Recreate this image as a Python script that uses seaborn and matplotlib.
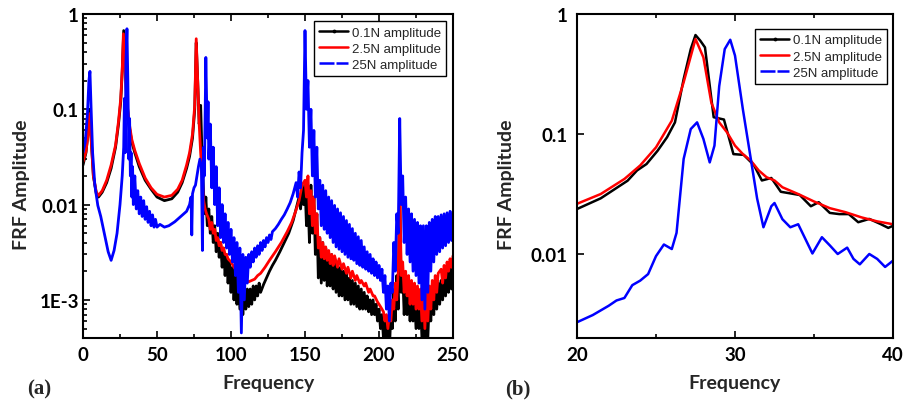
import matplotlib
matplotlib.use("Agg")
import matplotlib.pyplot as plt
import seaborn as sns
from matplotlib.lines import Line2D
from matplotlib.ticker import FixedLocator, FixedFormatter, LogLocator, NullFormatter, MultipleLocator

# ---------------- data: panel (a) ----------------
freq_a_01 = [0, 2, 3.5, 4.5, 5.5, 7, 9, 10.5, 13, 16, 19, 22, 24, 25.5, 26.5, 27.5, 28.5, 29.5, 31, 33, 35, 38, 42, 46, 50, 55, 60, 64, 67, 70, 72, 74, 75.5, 76.5, 77.5, 78.5, 79.5, 80.5, 81.5, 82.5, 83, 84, 85, 86, 87, 88, 89, 90, 91, 92, 93, 94, 95, 96, 97, 98, 99, 100, 101, 102, 103, 104, 105, 106, 107, 108, 109, 110, 111, 112, 113, 114, 115, 116, 117, 118, 119, 120, 122, 124, 126, 128, 130, 133, 136, 139, 142, 144, 146, 147, 148, 149, 150, 151, 152, 153, 154, 155, 156, 157, 158, 159, 160, 161, 162, 163, 164, 165, 166, 167, 168, 169, 170, 171, 172, 173, 174, 175, 176, 177, 178, 179, 180, 181, 182, 183, 184, 185, 186, 187, 188, 189, 190, 191, 192, 193, 194, 195, 196, 197, 198, 199, 200, 201, 202, 203, 204, 205, 206, 207, 208, 209, 210, 211, 212, 213, 214, 215, 216, 217, 218, 219, 220, 221, 222, 223, 224, 225, 226, 227, 228, 229, 230, 231, 232, 233, 234, 235, 236, 237, 238, 239, 240, 241, 242, 243, 244, 245, 246, 247, 248, 249, 250]
amp_a_01 = [0.026, 0.035, 0.06, 0.1, 0.05, 0.02, 0.013, 0.012, 0.0135, 0.017, 0.024, 0.04, 0.07, 0.12, 0.25, 0.67, 0.3, 0.13, 0.07, 0.045, 0.035, 0.025, 0.018, 0.0145, 0.012, 0.011, 0.0115, 0.0135, 0.017, 0.024, 0.032, 0.05, 0.1, 0.5, 0.2, 0.07, 0.11, 0.03, 0.013, 0.008, 0.012, 0.006, 0.009, 0.005, 0.0075, 0.004, 0.006, 0.0032, 0.005, 0.0028, 0.004, 0.0022, 0.0035, 0.0018, 0.003, 0.0015, 0.0025, 0.0012, 0.0022, 0.001, 0.0019, 0.0009, 0.0017, 0.0008, 0.0016, 0.0007, 0.0014, 0.0008, 0.0013, 0.00085, 0.0013, 0.0009, 0.0014, 0.001, 0.0014, 0.0011, 0.0015, 0.0012, 0.00145, 0.0017, 0.002, 0.0023, 0.0026, 0.0032, 0.004, 0.005, 0.0068, 0.009, 0.012, 0.009, 0.015, 0.01, 0.016, 0.006, 0.012, 0.004, 0.016, 0.005, 0.012, 0.003, 0.008, 0.0017, 0.0045, 0.0015, 0.004, 0.0016, 0.0035, 0.0014, 0.003, 0.0014, 0.003, 0.0013, 0.0026, 0.0012, 0.0024, 0.0011, 0.0022, 0.0011, 0.002, 0.001, 0.0019, 0.001, 0.0017, 0.0009, 0.0016, 0.0009, 0.0015, 0.00085, 0.0014, 0.0008, 0.0013, 0.0008, 0.0012, 0.0008, 0.0011, 0.00075, 0.001, 0.0007, 0.001, 0.0007, 0.0009, 0.0006, 0.0008, 0.0005, 0.0007, 0.0004, 0.0006, 0.0003, 0.0006, 0.0003, 0.0007, 0.0005, 0.0012, 0.0006, 0.0018, 0.0008, 0.015, 0.0012, 0.002, 0.0007, 0.0016, 0.0007, 0.0015, 0.0006, 0.0013, 0.0006, 0.0012, 0.0005, 0.0012, 0.0005, 0.001, 0.0004, 0.0009, 0.0003, 0.0009, 0.0004, 0.001, 0.0006, 0.0012, 0.0007, 0.0014, 0.0008, 0.0015, 0.0009, 0.0016, 0.001, 0.0018, 0.0011, 0.002, 0.0012, 0.0022, 0.0013, 0.0023]

freq_a_25 = [0, 2, 3.5, 4.5, 5.5, 7, 9, 10.5, 13, 16, 19, 22, 24, 25.5, 26.5, 27.3, 28.3, 29.5, 31, 33, 35, 38, 42, 46, 50, 55, 60, 64, 67, 70, 72, 74, 75.5, 76.5, 77.5, 78.5, 79.5, 80.5, 81.5, 82.5, 83.5, 85, 86, 87, 88, 89, 90, 91, 92, 93, 94, 95, 96, 97, 98, 100, 102, 104, 106, 108, 110, 112, 114, 116, 118, 120, 123, 126, 130, 134, 138, 141, 144, 146, 148, 149, 150, 151, 152, 153, 154, 155, 156, 157, 158, 159, 160, 161, 162, 163, 164, 165, 166, 167, 168, 169, 170, 172, 173, 175, 176, 178, 179, 181, 182, 184, 185, 187, 188, 190, 191, 193, 194, 196, 197, 199, 200, 202, 203, 204, 205, 206, 207, 208, 209, 210, 211, 212, 213, 214, 215, 216, 217, 218, 219, 220, 221, 222, 223, 224, 225, 226, 227, 228, 229, 230, 231, 232, 233, 234, 235, 236, 237, 238, 239, 240, 242, 243, 244, 245, 246, 247, 248, 249, 250]
amp_a_25 = [0.028, 0.036, 0.055, 0.09, 0.05, 0.02, 0.0135, 0.0125, 0.014, 0.018, 0.026, 0.042, 0.075, 0.13, 0.26, 0.62, 0.3, 0.13, 0.075, 0.048, 0.037, 0.027, 0.019, 0.015, 0.0128, 0.012, 0.0125, 0.0145, 0.018, 0.026, 0.035, 0.055, 0.11, 0.55, 0.2, 0.07, 0.035, 0.02, 0.011, 0.009, 0.008, 0.007, 0.0055, 0.0065, 0.005, 0.0055, 0.0042, 0.0045, 0.0037, 0.004, 0.0033, 0.0035, 0.003, 0.003, 0.0027, 0.0025, 0.0022, 0.002, 0.0019, 0.0017, 0.0016, 0.00155, 0.0016, 0.00165, 0.0018, 0.0019, 0.0022, 0.0026, 0.0032, 0.004, 0.0052, 0.0065, 0.0088, 0.011, 0.016, 0.017, 0.018, 0.012, 0.02, 0.008, 0.014, 0.006, 0.012, 0.005, 0.008, 0.0035, 0.0045, 0.0028, 0.004, 0.0027, 0.0036, 0.0026, 0.0033, 0.0024, 0.003, 0.0023, 0.0029, 0.0022, 0.0027, 0.0021, 0.0024, 0.0019, 0.0022, 0.0017, 0.002, 0.0016, 0.0018, 0.0015, 0.0016, 0.0014, 0.0015, 0.0012, 0.0013, 0.0011, 0.0011, 0.00095, 0.0009, 0.0008, 0.00075, 0.0006, 0.0007, 0.0005, 0.0007, 0.0006, 0.001, 0.0008, 0.0015, 0.001, 0.002, 0.018, 0.0018, 0.0025, 0.0012, 0.002, 0.0011, 0.0018, 0.0009, 0.0016, 0.0009, 0.0015, 0.0008, 0.0014, 0.0008, 0.0013, 0.0006, 0.0013, 0.0005, 0.0013, 0.0006, 0.0014, 0.0008, 0.0016, 0.001, 0.0018, 0.0012, 0.0019, 0.0021, 0.0015, 0.0023, 0.0017, 0.0025, 0.002, 0.0027, 0.0022, 0.0029]

freq_a_250 = [0, 1.5, 3, 4, 4.7, 5.5, 6.5, 8, 10, 12, 15, 17, 19, 21, 23, 25, 26.5, 27.5, 28, 28.5, 29, 29.7, 30.3, 31, 31.5, 32, 32.5, 33, 33.5, 34, 35, 36, 37, 38, 39, 40, 41, 42, 43, 44, 45, 46, 47, 48, 49, 50, 52, 55, 58, 62, 66, 70, 72, 73, 73.5, 74, 75, 76, 77, 78, 79, 80, 80.7, 81.5, 82, 83, 84, 84.5, 85, 86, 87, 88, 89, 90, 91, 92, 93, 94, 95, 96, 97, 98, 99, 100, 101, 102, 103, 104, 105, 106, 107, 108, 109, 110, 111, 112, 113, 114, 115, 116, 117, 118, 119, 120, 121, 122, 123, 124, 125, 126, 127, 128, 130, 132, 134, 136, 138, 140, 142, 144, 145, 146, 147, 148, 149, 150, 151, 152, 153, 154, 155, 156, 157, 158, 159, 160, 161, 162, 163, 164, 165, 166, 167, 168, 169, 170, 171, 172, 173, 174, 175, 176, 177, 178, 179, 180, 181, 182, 183, 184, 185, 186, 187, 188, 189, 190, 191, 192, 193, 194, 195, 196, 197, 198, 199, 200, 201, 202, 203, 204, 205, 206, 207, 208, 209, 210, 211, 212, 213, 214, 215, 216, 217, 218, 219, 220, 221, 222, 223, 224, 225, 226, 227, 228, 229, 230, 231, 232, 233, 234, 235, 236, 237, 238, 239, 240, 241, 242, 243, 244, 245, 246, 247, 248, 249, 250]
amp_a_250 = [0.035, 0.045, 0.09, 0.2, 0.25, 0.1, 0.035, 0.016, 0.0098, 0.0075, 0.0045, 0.0032, 0.0026, 0.0033, 0.005, 0.01, 0.02, 0.04, 0.13, 0.035, 0.3, 0.7, 0.2, 0.03, 0.08, 0.02, 0.035, 0.012, 0.025, 0.01, 0.02, 0.009, 0.014, 0.008, 0.012, 0.0075, 0.011, 0.007, 0.0095, 0.0065, 0.0085, 0.006, 0.0078, 0.0058, 0.007, 0.0058, 0.0062, 0.0058, 0.006, 0.0066, 0.0075, 0.0085, 0.01, 0.012, 0.0048, 0.013, 0.015, 0.016, 0.02, 0.025, 0.03, 0.025, 0.0033, 0.04, 0.02, 0.35, 0.05, 0.12, 0.03, 0.07, 0.015, 0.04, 0.01, 0.025, 0.006, 0.015, 0.0045, 0.01, 0.004, 0.008, 0.0035, 0.0065, 0.003, 0.0055, 0.0025, 0.0045, 0.0018, 0.004, 0.0012, 0.0035, 0.00045, 0.003, 0.001, 0.0028, 0.0015, 0.003, 0.0022, 0.0032, 0.0025, 0.0035, 0.0028, 0.0037, 0.003, 0.004, 0.0033, 0.0042, 0.0036, 0.0045, 0.004, 0.0048, 0.0043, 0.0052, 0.0056, 0.0062, 0.007, 0.0078, 0.009, 0.0105, 0.013, 0.017, 0.012, 0.022, 0.015, 0.035, 0.06, 0.67, 0.1, 0.2, 0.04, 0.1, 0.02, 0.06, 0.012, 0.04, 0.009, 0.018, 0.006, 0.016, 0.0055, 0.014, 0.005, 0.012, 0.0045, 0.011, 0.004, 0.0098, 0.0036, 0.009, 0.0034, 0.0082, 0.0032, 0.0075, 0.003, 0.0068, 0.0028, 0.0062, 0.0027, 0.0056, 0.0026, 0.005, 0.0024, 0.0046, 0.0023, 0.0042, 0.0022, 0.0036, 0.0021, 0.0032, 0.002, 0.003, 0.0019, 0.0027, 0.0018, 0.0025, 0.0017, 0.0023, 0.0016, 0.0021, 0.0012, 0.0018, 0.0008, 0.0014, 0.0006, 0.0015, 0.0012, 0.004, 0.002, 0.008, 0.005, 0.08, 0.01, 0.02, 0.004, 0.012, 0.003, 0.009, 0.0025, 0.008, 0.002, 0.007, 0.0018, 0.0065, 0.0015, 0.006, 0.001, 0.006, 0.0008, 0.006, 0.0012, 0.0065, 0.002, 0.007, 0.0025, 0.0075, 0.003, 0.0075, 0.0032, 0.0078, 0.0035, 0.008, 0.0037, 0.0082, 0.004, 0.0085, 0.0042, 0.0085]

# ---------------- data: panel (b) ----------------
freq_b_01 = [20, 21.5, 23.2, 23.8, 24.4, 25.1, 25.7, 26.2, 26.75, 27.2, 27.5, 27.8, 28.1, 28.65, 29.3, 29.9, 30.55, 31.2, 31.7, 32.3, 32.9, 33.5, 34.1, 34.8, 35.3, 36.0, 36.6, 37.2, 37.8, 38.5, 39.2, 39.7, 40]
amp_b_01 = [0.0237, 0.0291, 0.0408, 0.0497, 0.0562, 0.0725, 0.094, 0.125, 0.287, 0.51, 0.668, 0.60, 0.527, 0.138, 0.132, 0.068, 0.067, 0.055, 0.041, 0.043, 0.033, 0.032, 0.031, 0.025, 0.027, 0.022, 0.0215, 0.0215, 0.0184, 0.0196, 0.0178, 0.0165, 0.0172]

freq_b_25 = [20, 21.5, 23, 24, 25, 26, 26.75, 27.5, 28, 28.5, 29, 29.5, 30, 30.5, 31, 31.5, 32, 32.5, 33, 34, 35, 36, 37, 38, 39, 40]
amp_b_25 = [0.0262, 0.0316, 0.0422, 0.0547, 0.0774, 0.129, 0.27, 0.619, 0.435, 0.183, 0.125, 0.103, 0.08, 0.068, 0.06, 0.0497, 0.0436, 0.041, 0.036, 0.0316, 0.0274, 0.0241, 0.0223, 0.0202, 0.0187, 0.0177]

freq_b_250 = [20, 21, 22, 22.5, 23, 23.5, 24, 24.5, 25, 25.5, 26, 26.3, 26.75, 27.2, 27.6, 28, 28.4, 28.7, 29, 29.35, 29.7, 30, 30.5, 31, 31.4, 31.8, 32.3, 32.5, 33, 33.5, 34, 34.4, 34.9, 35.5, 36, 36.5, 37.1, 37.5, 37.9, 38.5, 39, 39.5, 40]
amp_b_250 = [0.0027, 0.0031, 0.0037, 0.0041, 0.0043, 0.0055, 0.006, 0.0068, 0.0096, 0.012, 0.011, 0.015, 0.062, 0.11, 0.125, 0.091, 0.058, 0.08, 0.25, 0.51, 0.61, 0.45, 0.16, 0.062, 0.029, 0.0167, 0.025, 0.0266, 0.0195, 0.0167, 0.0177, 0.0138, 0.0101, 0.0138, 0.0118, 0.01, 0.0113, 0.0091, 0.0082, 0.01, 0.0091, 0.0078, 0.0088]

series_labels = ["0.1N amplitude", "2.5N amplitude", "25N amplitude"]
series_colors = ["#000000", "#ff0000", "#0000ff"]
ytick_vals_a = [1, 0.1, 0.01, 0.001]
ytick_text_a = ["1", "0.1", "0.01", "1E-3"]
ytick_vals_b = [1, 0.1, 0.01]
ytick_text_b = ["1", "0.1", "0.01"]

# ---------------- style ----------------
sns.set_style("ticks")
plt.rcParams["font.family"] = ["Lato", "DejaVu Sans"]

fig = plt.figure(figsize=(9.11, 4.06), dpi=100)
ax_a = fig.add_axes([83 / 911, 67 / 406, 370 / 911, 324 / 406])
ax_b = fig.add_axes([577 / 911, 67 / 406, 316 / 911, 324 / 406])

panels = [
    (ax_a, [(freq_a_01, amp_a_01), (freq_a_25, amp_a_25), (freq_a_250, amp_a_250)], 2.0),
    (ax_b, [(freq_b_01, amp_b_01), (freq_b_25, amp_b_25), (freq_b_250, amp_b_250)], 1.8),
]
for ax, series, lw in panels:
    for (fx, fy), col in zip(series, series_colors):
        sns.lineplot(x=fx, y=fy, ax=ax, color=col, lw=lw, sort=False,
                     estimator=None, legend=False)
    ax.set_yscale("log")

# axes limits / ticks panel a
ax_a.set_xlim(0, 250)
ax_a.set_ylim(10 ** -3.4, 1)
ax_a.xaxis.set_major_locator(MultipleLocator(50))
ax_a.xaxis.set_minor_locator(MultipleLocator(25))
ax_a.yaxis.set_major_locator(FixedLocator(ytick_vals_a))
ax_a.yaxis.set_major_formatter(FixedFormatter(ytick_text_a))
ax_a.yaxis.set_minor_locator(LogLocator(base=10, subs=range(2, 10)))
ax_a.yaxis.set_minor_formatter(NullFormatter())

# panel b
ax_b.set_xlim(20, 40)
ax_b.set_ylim(10 ** -2.7, 1)
ax_b.xaxis.set_major_locator(MultipleLocator(10))
ax_b.xaxis.set_minor_locator(MultipleLocator(5))
ax_b.yaxis.set_major_locator(FixedLocator(ytick_vals_b))
ax_b.yaxis.set_major_formatter(FixedFormatter(ytick_text_b))
ax_b.yaxis.set_minor_locator(FixedLocator([]))
ax_b.yaxis.set_minor_formatter(NullFormatter())

for ax, ypad in [(ax_a, 3), (ax_b, 7)]:
    for sp in ax.spines.values():
        sp.set_visible(True)
        sp.set_linewidth(1.5)
        sp.set_color("black")
    ax.tick_params(axis="both", which="both", direction="in", top=True, right=False,
                   width=1.2, colors="black")
    ax.tick_params(axis="both", which="major", length=5)
    ax.tick_params(axis="both", which="minor", length=3)
    ax.tick_params(axis="x", which="major", pad=6, labelsize=13.5)
    ax.tick_params(axis="y", which="major", pad=ypad, labelsize=13.5)
    for lab in ax.get_xticklabels() + ax.get_yticklabels():
        lab.set_fontweight("bold")
    ax.set_xlabel("Frequency", fontsize=14, fontweight="bold")
    ax.set_ylabel("FRF Amplitude", fontsize=14, fontweight="bold")
    ax.grid(False)

ax_a.xaxis.set_label_coords(0.5, -0.11)
ax_b.xaxis.set_label_coords(0.5, -0.11)
ax_a.yaxis.set_label_coords(-0.143, 0.475)
ax_b.yaxis.set_label_coords(-0.196, 0.475)

# legends
handles = [
    Line2D([0], [0], color=series_colors[0], lw=1.8, marker=".", markersize=3.5),
    Line2D([0], [0], color=series_colors[1], lw=1.8),
    Line2D([0], [0], color=series_colors[2], lw=1.8, linestyle=(0, (6, 0.8))),
]
for ax, anchor in [(ax_a, (0.981, 0.978)), (ax_b, (0.981, 0.954))]:
    leg = ax.legend(handles, series_labels, loc="upper right", bbox_to_anchor=anchor,
                    prop={"family": "Liberation Sans", "size": 9.5}, frameon=True,
                    fancybox=False, edgecolor="black", framealpha=1,
                    handlelength=2.2, handletextpad=0.25, labelspacing=0.3,
                    borderpad=0.4, borderaxespad=0)
    leg.get_frame().set_linewidth(1.0)

fig.text(27 / 911, 1 - 389 / 406, "(a)", fontsize=15, fontweight="bold",
         family="Liberation Serif", va="center", ha="left")
fig.text(505 / 911, 1 - 389 / 406, "(b)", fontsize=15, fontweight="bold",
         family="Liberation Serif", va="center", ha="left")

fig.savefig("out.png", dpi=100)
